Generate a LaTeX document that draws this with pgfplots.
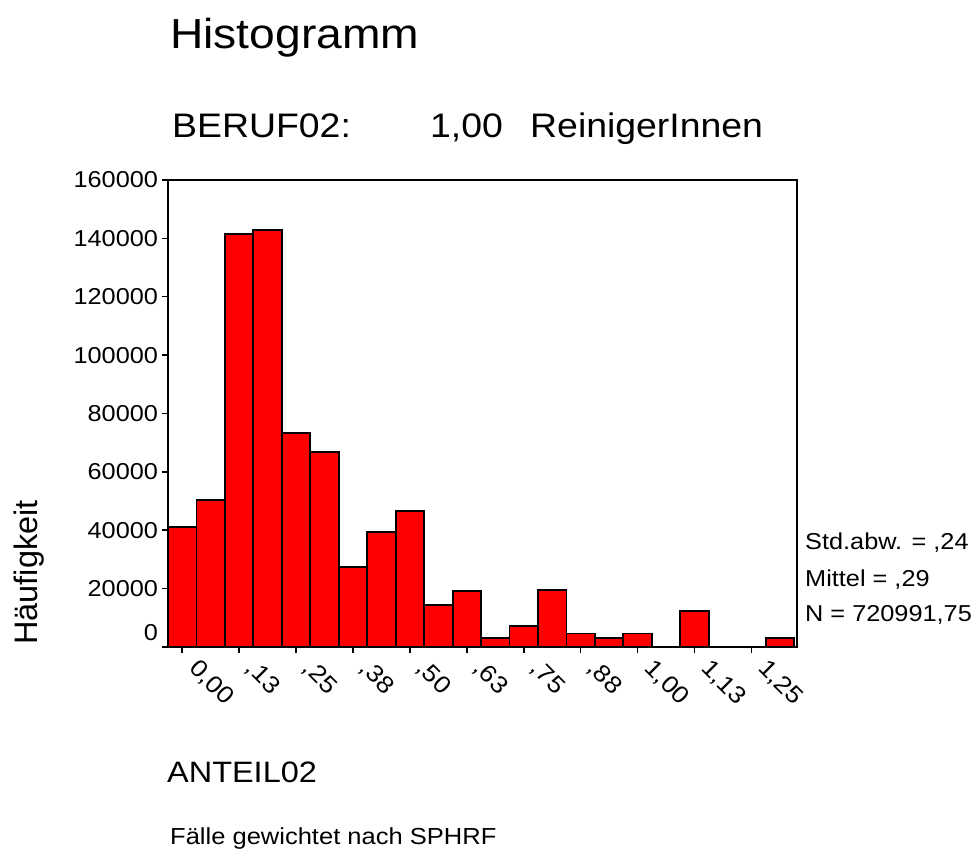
\documentclass[border=0pt]{standalone}
\usepackage{pgfplots}
\pgfplotsset{compat=1.18}
\usepackage{fontspec}
\setmainfont[FakeStretch=1.1]{Liberation Sans}
\newfontfamily\plainfont{Liberation Sans}
\begin{document}
\begin{tikzpicture}
\useasboundingbox (0,0) rectangle (978bp,850bp);
\begin{axis}[
  at={(168bp,203bp)}, anchor=south west,
  scale only axis, width=629bp, height=467bp,
  xmin=-0.03125, xmax=1.35, ymin=0, ymax=160000,
  scaled y ticks=false, scaled x ticks=false,
  axis line style={line width=1.8bp},
  tick style={line width=1.5bp, black},
  tick align=outside, major tick length=6.5bp,
  xtick pos=bottom, ytick pos=left,
  xtick={0,0.125,0.25,0.375,0.5,0.625,0.75,0.875,1,1.125,1.25},
  xticklabels={{0,00},{,13},{,25},{,38},{,50},{,63},{,75},{,88},{1,00},{1,13},{1,25}},
  xticklabel style={rotate=-45, anchor=north west, font=\fontsize{24bp}{27bp}\selectfont, xshift=12bp, yshift=13bp},
  ytick={20000,40000,60000,80000,100000,120000,140000,160000},
  yticklabels={20000,40000,60000,80000,100000,120000,140000,160000},
  extra y ticks={0},
  extra y tick labels={0},
  extra y tick style={yticklabel style={yshift=14bp}},
  yticklabel style={font=\fontsize{23bp}{26bp}\selectfont},
  ybar, bar width=0.0625, bar shift=0pt,
]
\addplot[fill=red, draw=black, line width=1.8bp] coordinates {
(0,41000) (0.0625,50500) (0.125,141500) (0.1875,143000) (0.25,73200)
(0.3125,66700) (0.375,27300) (0.4375,39400) (0.5,46600) (0.5625,14400)
(0.625,19200) (0.6875,3100) (0.75,7200) (0.8125,19400) (0.875,4600)
(0.9375,3100) (1.0,4600) (1.125,12300) (1.3125,3100)
};
\end{axis}
\node[anchor=base west, inner sep=0pt, font=\fontsize{42bp}{46bp}\selectfont] at (170bp,801bp) {Histogramm};
\node[anchor=base west, inner sep=0pt, font=\fontsize{34bp}{38bp}\selectfont] at (172bp,712bp) {BERUF02:};
\node[anchor=base west, inner sep=0pt, font=\fontsize{34bp}{38bp}\selectfont] at (430bp,712bp) {1,00};
\node[anchor=base west, inner sep=0pt, font=\fontsize{34bp}{38bp}\selectfont] at (530bp,712bp) {ReinigerInnen};
\node[anchor=base west, inner sep=0pt, font=\fontsize{23bp}{26bp}\selectfont] at (805bp,300bp) {Std.abw. = ,24};
\node[anchor=base west, inner sep=0pt, font=\fontsize{23bp}{26bp}\selectfont] at (805bp,263bp) {Mittel = ,29};
\node[anchor=base west, inner sep=0pt, font=\fontsize{23bp}{26bp}\selectfont] at (805bp,228bp) {N = 720991,75};
\node[rotate=90, anchor=base west, inner sep=0pt, font=\plainfont\fontsize{32.5bp}{36bp}\selectfont] at (37.5bp,205bp) {Häufigkeit};
\node[anchor=base west, inner sep=0pt, font=\fontsize{29.5bp}{33bp}\selectfont] at (167bp,67bp) {ANTEIL02};
\node[anchor=base west, inner sep=0pt, font=\fontsize{23.2bp}{27bp}\selectfont] at (170bp,6bp) {Fälle gewichtet nach SPHRF};
\end{tikzpicture}
\end{document}
